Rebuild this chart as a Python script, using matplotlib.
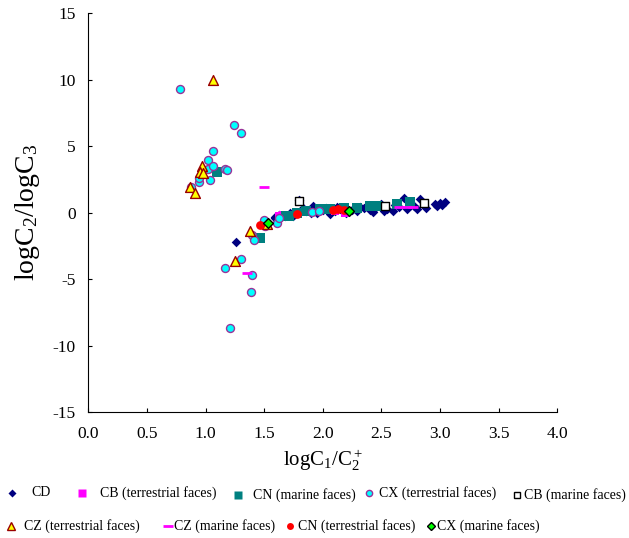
import matplotlib
matplotlib.use('Agg')
import matplotlib.pyplot as plt
from matplotlib.lines import Line2D

plt.rcParams['font.family'] = ['Liberation Serif', 'DejaVu Serif']
plt.rcParams['mathtext.fontset'] = 'custom'
plt.rcParams['mathtext.rm'] = 'Liberation Serif'
plt.rcParams['mathtext.it'] = 'Liberation Serif:italic'
plt.rcParams['axes.unicode_minus'] = False

# data
cd_x = [1.26, 1.59, 1.59, 1.63, 1.68, 1.72, 1.75, 1.76, 1.80, 1.83, 1.86, 1.90, 1.92, 1.95,
        2.00, 2.03, 2.06, 2.10, 2.12, 2.15, 2.20, 2.25, 2.29, 2.32, 2.35, 2.40, 2.43, 2.45,
        2.50, 2.52, 2.55, 2.60, 2.62, 2.65, 2.69, 2.72, 2.75, 2.78, 2.80, 2.83, 2.86, 2.88,
        2.96, 2.97, 3.00, 3.02, 3.04]
cd_y = [-2.2, -0.45, -0.37, -0.17, -0.3, -0.05, -0.25, -0.1, 0.95, 0.37, 0.1, -0.05, 0.5, 0.0,
        0.2, 0.37, -0.12, 0.1, 0.4, 0.3, 0.0, 0.2, 0.13, 0.45, 0.37, 0.2, 0.05, 0.45,
        0.63, 0.15, 0.25, 0.13, 0.55, 0.45, 1.12, 0.3, 0.6, 0.5, 0.25, 1.0, 0.55, 0.35,
        0.63, 0.5, 0.75, 0.6, 0.82]

cb_terr_x = [1.63, 1.66, 2.06, 2.10, 2.19]
cb_terr_y = [-0.3, -0.15, 0.25, 0.1, 0.0]

cn_mar_x = [1.10, 1.465, 1.69, 1.71, 1.78, 1.86, 1.98, 2.06, 2.18, 2.29, 2.40, 2.46, 2.63, 2.745]
cn_mar_y = [3.07, -1.9, -0.25, -0.25, 0.0, 0.13, 0.25, 0.25, 0.33, 0.37, 0.5, 0.5, 0.63, 0.82]

cx_terr_x = [0.78, 0.88, 0.94, 0.94, 1.02, 1.024, 1.04, 1.06, 1.06, 1.17, 1.18, 1.24, 1.30,
             1.17, 1.21, 1.30, 1.385, 1.397, 1.40, 1.41, 1.50, 1.51, 1.61, 1.63, 1.91, 1.97]
cx_terr_y = [9.3, 1.95, 2.3, 2.6, 3.3, 3.95, 2.42, 3.47, 4.62, 3.27, 3.18, 6.55, 5.97,
             -4.19, -8.69, -3.52, -6.01, -4.67, -1.7, -2.05, -0.55, -1.0, -0.82, -0.45, 0.07, 0.1]

cb_mar_x = [1.80, 2.53, 2.86]
cb_mar_y = [0.88, 0.5, 0.75]

cz_terr_x = [1.066, 0.968, 0.953, 0.982, 0.868, 0.908, 1.38, 1.248, 1.525]
cz_terr_y = [10.0, 3.5, 3.07, 2.95, 1.92, 1.5, -1.42, -3.62, -0.87]

cz_mar_x = [1.50, 1.35, 2.65, 2.72, 2.77]
cz_mar_y = [1.95, -4.57, 0.43, 0.43, 0.43]

cn_terr_x = [1.465, 1.78, 2.09, 2.13, 2.18]
cn_terr_y = [-0.92, -0.12, 0.18, 0.25, 0.18]

cx_mar_x = [1.53, 2.22]
cx_mar_y = [-0.77, 0.13]

fig = plt.figure(figsize=(6.29, 5.38), dpi=100)
ax = fig.add_axes([0.1404, 0.2342, 0.7456, 0.7416])

ax.scatter(cd_x, cd_y, marker='D', s=24, color='#000080', linewidths=0)
ax.scatter(cb_terr_x, cb_terr_y, marker='s', s=40, color='#FF00FF', linewidths=0)
ax.scatter(cn_mar_x, cn_mar_y, marker='s', s=52, color='#008080', linewidths=0)
ax.scatter(cx_terr_x, cx_terr_y, marker='o', s=33, facecolor='#00FFFF', edgecolor='#993399', linewidths=1)
ax.scatter(cb_mar_x, cb_mar_y, marker='s', s=30, facecolor='white', edgecolor='black', linewidths=1)
ax.scatter(cz_terr_x, cz_terr_y, marker='^', s=50, facecolor='#FFFF00', edgecolor='#990000', linewidths=1)
ax.scatter(cz_mar_x, cz_mar_y, marker='_', s=60, color='#FF00FF', linewidths=2)
ax.scatter(cn_terr_x, cn_terr_y, marker='o', s=40, color='#FF0000', linewidths=0)
ax.scatter(cx_mar_x, cx_mar_y, marker='D', s=25, facecolor='#00FF00', edgecolor='black', linewidths=1)

ax.set_xlim(0, 4)
ax.set_ylim(-15, 15)
ax.set_xticks([0, 0.5, 1, 1.5, 2, 2.5, 3, 3.5, 4])
ax.set_xticklabels(['0.0', '0.5', '1.0', '1.5', '2.0', '2.5', '3.0', '3.5', '4.0'])
ax.set_yticks([-15, -10, -5, 0, 5, 10, 15])
ax.tick_params(direction='in', length=3, labelsize=12.5)
ax.tick_params(axis='x', pad=10)
ax.tick_params(axis='y', pad=9)
ax.spines['top'].set_visible(False)
ax.spines['right'].set_visible(False)
ax.set_xlabel(r'$\mathrm{logC_1/C_2^+}$', fontsize=15, labelpad=4)
ax.set_ylabel(r'$\mathrm{logC_2/logC_3}$', fontsize=20, labelpad=8)

# legend, laid out like the original two rows
leg_labels = ['CD', 'CB (terrestrial faces)', 'CN (marine faces)',
              'CX (terrestrial faces)', 'CB (marine faces)',
              'CZ (terrestrial faces)', 'CZ (marine faces)',
              'CN (terrestrial faces)', 'CX (marine faces)']
leg_styles = [('D', '#000080', 'none', 4.5, 1), ('s', '#FF00FF', 'none', 5.5, 1),
              ('s', '#008080', 'none', 5.5, 1), ('o', '#00FFFF', '#993399', 4.5, 1),
              ('s', 'white', 'black', 5, 1), ('^', '#FFFF00', '#990000', 6, 1),
              ('_', '#FF00FF', '#FF00FF', 7, 2), ('o', '#FF0000', 'none', 5, 1),
              ('D', '#00FF00', 'black', 4.2, 1)]
# pixel positions: marker x, text x, row y
leg_mx = [12, 82, 238, 369, 517, 11, 168, 290, 431]
leg_tx = [31, 100, 253, 379, 524, 24, 174, 298, 437]
leg_y = [493, 493, 495, 493, 495, 526, 526, 526, 526]

W, H = 629, 538
for lab, (m, fc, ec, ms, mew), mx, tx, ly in zip(leg_labels, leg_styles, leg_mx, leg_tx, leg_y):
    fig.add_artist(Line2D([mx / W], [1 - ly / H], transform=fig.transFigure, linestyle='none',
                          marker=m, markersize=ms, markerfacecolor=fc,
                          markeredgecolor=ec, markeredgewidth=mew))
    fig.text(tx / W, 1 - ly / H, lab, fontsize=10.0, ha='left', va='center')

fig.savefig('out.png', dpi=100)
